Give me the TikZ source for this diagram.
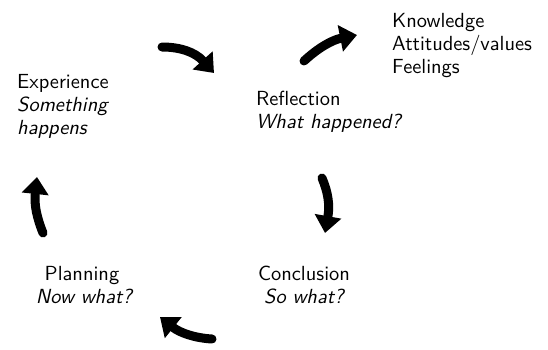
\documentclass[tikz,border=0pt]{standalone}
\usepackage{fontspec}
\setsansfont{lmsans10-regular.otf}[ItalicFont=lmsans10-oblique.otf]
\usetikzlibrary{arrows.meta}
\begin{document}
\begin{tikzpicture}[x=1bp,y=-1bp,
  lbl/.style={anchor=base west,inner sep=0pt,font=\sffamily\fontsize{20.5}{23}\selectfont},
  lblc/.style={anchor=base,inner sep=0pt,font=\sffamily\fontsize{20.5}{23}\selectfont},
  bigarrow/.style={line width=9bp,line cap=round,-{Triangle[width=26bp,length=17bp]}}]
\useasboundingbox (0,0) rectangle (548,349);
% texts
\node[lbl] (exp) at (17,88) {Experience};
\node[lbl] (exp2) at (17,111) {\itshape Something};
\node[lbl] (exp3) at (17,134) {\itshape happens};
\node[lbl] (ref) at (256,105) {Reflection};
\node[lbl] (ref2) at (256,128) {\itshape What happened?};
\node[lbl] (k1) at (392,27) {Knowledge};
\node[lbl] (k2) at (392,50) {Attitudes/values};
\node[lbl] (k3) at (392,73) {Feelings};
\node[lblc] (pl) at (82,280) {Planning};
\node[lblc] (pl2) at (84,303) {\itshape Now what?};
\node[lblc] (co) at (304,280) {Conclusion};
\node[lblc] (co2) at (304,303) {\itshape So what?};
% arrow coordinates
\coordinate (a1s) at (162,47);
\coordinate (a1e) at (214,73);
\coordinate (a2s) at (304,61);
\coordinate (a2e) at (357,35);
\coordinate (a3s) at (322,178);
\coordinate (a3e) at (325,233);
\coordinate (a4s) at (212,339);
\coordinate (a4e) at (160,317);
\coordinate (a5s) at (43,233);
\coordinate (a5e) at (37,177);
% arrows
\draw[bigarrow] (a1s) .. controls (180,47) and (195,52) .. (a1e);
\draw[bigarrow] (a2s) .. controls (318,48) and (332,40) .. (a2e);
\draw[bigarrow] (a3s) .. controls (328,192) and (330,205) .. (a3e);
\draw[bigarrow] (a4s) .. controls (195,338) and (180,333) .. (a4e);
\draw[bigarrow] (a5s) .. controls (37,218) and (34,205) .. (a5e);
\end{tikzpicture}
\end{document}
